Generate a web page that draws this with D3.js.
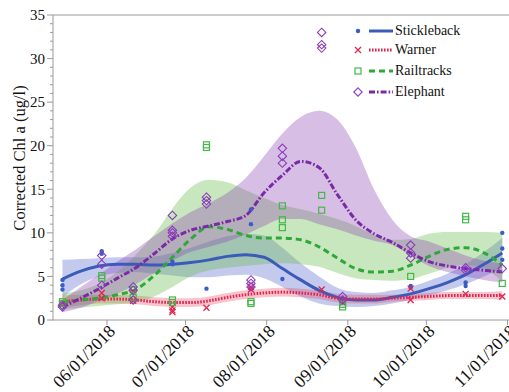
<!DOCTYPE html>
<html>
<head>
<meta charset="utf-8">
<script src="https://cdn.jsdelivr.net/npm/d3@7/dist/d3.min.js"></script>
<style>
  body { margin: 0; background: #fff; }
  svg { display: block; }
</style>
</head>
<body>
<svg id="chart" width="509" height="392"></svg>
<script>
// ---- data -------------------------------------------------------------
const siteNames = ["Stickleback", "Warner", "Railtracks", "Elephant"];

const xTickDates  = ["2018-06-01", "2018-07-01", "2018-08-01", "2018-09-01", "2018-10-01", "2018-11-01"];
const xTickLabels = ["06/01/2018", "07/01/2018", "08/01/2018", "09/01/2018", "10/01/2018", "11/01/2018"];
const yTicks = [0, 5, 10, 15, 20, 25, 30, 35];

// field measurements, [date, chlorophyll a]
const sticklebackObs = [
  ["2018-05-15", 4.6], ["2018-05-15", 4.0], ["2018-05-15", 3.5],
  ["2018-05-30", 7.9], ["2018-05-30", 7.6],
  ["2018-06-26", 6.7], ["2018-06-26", 6.4],
  ["2018-07-09", 3.6],
  ["2018-07-26", 12.7], ["2018-07-26", 11.0],
  ["2018-08-07", 4.7],
  ["2018-09-25", 3.9], ["2018-09-25", 3.7],
  ["2018-10-16", 4.3], ["2018-10-16", 3.9],
  ["2018-10-30", 10.0], ["2018-10-30", 8.2], ["2018-10-30", 6.9]
];
const warnerObs = [
  ["2018-05-15", 1.8],
  ["2018-05-30", 3.1], ["2018-05-30", 2.5],
  ["2018-06-11", 3.2], ["2018-06-11", 2.2],
  ["2018-06-26", 1.5], ["2018-06-26", 1.1], ["2018-06-26", 0.9],
  ["2018-07-09", 1.4],
  ["2018-07-26", 3.8], ["2018-07-26", 3.5],
  ["2018-08-22", 3.5],
  ["2018-08-30", 2.0],
  ["2018-09-25", 3.6], ["2018-09-25", 2.3],
  ["2018-10-16", 3.0],
  ["2018-10-30", 2.7]
];
const railtracksObs = [
  ["2018-05-15", 2.1], ["2018-05-15", 1.9],
  ["2018-05-30", 5.1], ["2018-05-30", 4.8],
  ["2018-06-11", 3.5], ["2018-06-11", 2.6],
  ["2018-06-26", 2.3], ["2018-06-26", 2.0],
  ["2018-07-09", 20.1], ["2018-07-09", 19.8],
  ["2018-07-26", 2.1], ["2018-07-26", 1.9],
  ["2018-08-07", 13.1], ["2018-08-07", 11.5], ["2018-08-07", 10.6],
  ["2018-08-22", 14.3], ["2018-08-22", 12.6],
  ["2018-08-30", 1.8], ["2018-08-30", 1.5],
  ["2018-09-25", 5.0],
  ["2018-10-16", 11.9], ["2018-10-16", 11.5],
  ["2018-10-30", 4.2]
];
const elephantObs = [
  ["2018-05-15", 1.5], ["2018-05-15", 1.7],
  ["2018-05-30", 7.4], ["2018-05-30", 6.4], ["2018-05-30", 4.0],
  ["2018-06-11", 3.8], ["2018-06-11", 3.4], ["2018-06-11", 2.3],
  ["2018-06-26", 12.0], ["2018-06-26", 10.3], ["2018-06-26", 10.0], ["2018-06-26", 9.6],
  ["2018-07-09", 14.1], ["2018-07-09", 13.7], ["2018-07-09", 13.3],
  ["2018-07-26", 4.6], ["2018-07-26", 4.2], ["2018-07-26", 3.8],
  ["2018-08-07", 19.7], ["2018-08-07", 18.8], ["2018-08-07", 18.0],
  ["2018-08-22", 33.0], ["2018-08-22", 31.6], ["2018-08-22", 31.2],
  ["2018-08-30", 2.7], ["2018-08-30", 2.3],
  ["2018-09-25", 8.6], ["2018-09-25", 7.7], ["2018-09-25", 7.1],
  ["2018-10-16", 6.0], ["2018-10-16", 5.7],
  ["2018-10-30", 5.9]
];

// smoothed trend and its confidence band, evaluated weekly
const fitDates = [
  "2018-05-15", "2018-05-22", "2018-05-29", "2018-06-05", "2018-06-12", "2018-06-19", "2018-06-26",
  "2018-07-03", "2018-07-10", "2018-07-17", "2018-07-24", "2018-07-31", "2018-08-07", "2018-08-14",
  "2018-08-21", "2018-08-28", "2018-09-04", "2018-09-11", "2018-09-18", "2018-09-25", "2018-10-02",
  "2018-10-09", "2018-10-16", "2018-10-23", "2018-10-30"
];

const sticklebackFit = [4.7, 5.6, 6.2, 6.4, 6.4, 6.3, 6.4, 6.6, 6.9, 7.3, 7.5, 7.2, 5.9, 4.6, 3.4, 2.6, 2.3, 2.3, 2.6, 3.0, 3.6, 4.3, 5.2, 6.4, 7.7];
const sticklebackLo  = [2.6, 4.1, 5.0, 5.4, 5.5, 5.3, 5.1, 4.9, 4.9, 5.1, 5.2, 4.8, 3.8, 2.7, 1.9, 1.6, 1.5, 1.6, 1.9, 2.3, 2.8, 3.4, 4.1, 5.0, 6.0];
const sticklebackHi  = [6.9, 7.0, 7.1, 7.2, 7.2, 7.3, 7.7, 8.3, 9.0, 9.6, 9.9, 9.7, 8.3, 6.5, 5.0, 3.7, 3.2, 3.1, 3.4, 3.8, 4.5, 5.3, 6.4, 7.8, 9.4];

const warnerFit = [2.1, 2.3, 2.4, 2.4, 2.3, 2.1, 2.0, 2.0, 2.2, 2.6, 2.9, 3.1, 3.2, 3.1, 2.9, 2.5, 2.4, 2.4, 2.5, 2.6, 2.7, 2.8, 2.8, 2.8, 2.8];
const warnerLo  = [1.4, 1.7, 1.9, 1.9, 1.8, 1.6, 1.5, 1.5, 1.7, 2.1, 2.4, 2.6, 2.7, 2.6, 2.4, 2.0, 1.9, 1.9, 2.1, 2.2, 2.3, 2.4, 2.4, 2.4, 2.3];
const warnerHi  = [2.8, 2.9, 2.9, 2.9, 2.8, 2.6, 2.5, 2.5, 2.7, 3.1, 3.4, 3.6, 3.7, 3.6, 3.4, 3.0, 2.9, 2.9, 2.9, 3.0, 3.1, 3.2, 3.2, 3.2, 3.3];

const railtracksFit = [2.1, 2.3, 2.5, 2.9, 3.5, 5.1, 7.2, 9.3, 10.7, 10.4, 9.7, 9.4, 9.4, 9.2, 8.4, 7.1, 5.9, 5.5, 5.6, 6.3, 7.3, 8.1, 8.3, 7.7, 6.3];
const railtracksLo  = [1.2, 1.4, 1.6, 1.8, 2.0, 2.7, 3.8, 5.0, 5.7, 6.0, 6.2, 6.4, 6.5, 6.4, 6.1, 5.4, 4.8, 4.6, 4.5, 4.7, 5.3, 6.0, 6.3, 5.9, 4.4];
const railtracksHi  = [3.0, 3.4, 4.2, 5.5, 7.5, 9.8, 12.8, 15.2, 16.1, 15.8, 14.9, 14.0, 13.2, 12.7, 12.2, 11.6, 10.8, 9.8, 9.2, 9.3, 9.9, 10.1, 10.1, 10.1, 10.0];

const elephantFit = [1.5, 2.5, 3.6, 4.8, 6.0, 7.6, 9.3, 10.3, 10.8, 11.3, 12.0, 14.6, 16.6, 18.2, 17.5, 14.4, 11.5, 9.9, 8.9, 7.7, 6.7, 6.2, 5.9, 5.7, 5.5];
const elephantLo  = [0.9, 1.4, 2.2, 3.0, 4.1, 5.4, 6.8, 7.8, 8.4, 9.0, 9.8, 10.8, 11.6, 11.6, 11.0, 10.4, 9.7, 9.1, 8.6, 7.4, 6.2, 5.5, 5.0, 4.6, 4.3];
const elephantHi  = [2.3, 3.8, 5.2, 6.7, 8.1, 9.6, 11.1, 12.4, 13.4, 14.6, 16.3, 18.8, 21.4, 23.3, 24.0, 23.0, 19.8, 15.0, 11.5, 9.6, 9.0, 8.2, 7.4, 6.8, 6.5];

// ---- layout -----------------------------------------------------------
const parse = d3.timeParse("%Y-%m-%d");
const serif = "'Liberation Serif', 'DejaVu Serif', 'Times New Roman', serif";
const svg = d3.select("#chart")
  .attr("font-family", serif)
  .style("font-family", serif);

const x = d3.scaleTime()
  .domain([parse("2018-05-11"), parse("2018-11-05")])
  .range([52, 518]);
const y = d3.scaleLinear().domain([0, 35]).range([320, 15]);

const axisColor = "#9a9a9a";

const sites = [
  { name: siteNames[0], obs: sticklebackObs, fit: sticklebackFit, lo: sticklebackLo, hi: sticklebackHi,
    line: "#3a5bb8", band: "rgba(60,80,200,0.30)", dash: null, marker: "dot" },
  { name: siteNames[1], obs: warnerObs, fit: warnerFit, lo: warnerLo, hi: warnerHi,
    line: "#e0264f", band: "rgba(230,60,90,0.30)", dash: "1.6,1.4", marker: "cross" },
  { name: siteNames[2], obs: railtracksObs, fit: railtracksFit, lo: railtracksLo, hi: railtracksHi,
    line: "#2fa83a", band: "rgba(100,185,70,0.35)", dash: "6,4", marker: "square" },
  { name: siteNames[3], obs: elephantObs, fit: elephantFit, lo: elephantLo, hi: elephantHi,
    line: "#7a2aa6", band: "rgba(140,70,180,0.35)", dash: "6,2,1.6,2", marker: "diamond" }
];
const markerColor = ["#3a5bc8", "#e0264f", "#44b84a", "#8a3cb8"];

// ---- bands -------------------------------------------------------------
const area = d3.area()
  .x(d => x(d.date)).y0(d => y(d.lo)).y1(d => y(d.hi))
  .curve(d3.curveMonotoneX);
const line = d3.line()
  .x(d => x(d.date)).y(d => y(d.v))
  .curve(d3.curveMonotoneX);

sites.forEach(s => {
  s.rows = fitDates.map((d, i) => ({ date: parse(d), v: s.fit[i], lo: s.lo[i], hi: s.hi[i] }));
});

const gBands = svg.append("g");
sites.forEach(s => {
  gBands.append("path").datum(s.rows).attr("d", area).attr("fill", s.band);
});

// ---- axes ----------------------------------------------------------------
function label(g) {
  return g.append("text").attr("font-family", serif).style("font-family", serif).attr("fill", "#111");
}

const gx = svg.append("g").attr("transform", "translate(0,320)");
gx.append("line").attr("x1", 52).attr("x2", 518).attr("stroke", axisColor);
xTickDates.forEach((d, i) => {
  const px = x(parse(d));
  gx.append("line").attr("x1", px).attr("x2", px).attr("y1", 0).attr("y2", 5).attr("stroke", axisColor);
  label(gx)
    .attr("transform", `translate(${px + 5},8) rotate(-45)`)
    .attr("text-anchor", "end")
    .attr("dy", "0.35em")
    .attr("font-size", 17.5)
    .text(xTickLabels[i]);
});

const gy = svg.append("g").attr("transform", "translate(53,0)");
gy.append("line").attr("y1", y(0)).attr("y2", y(35)).attr("stroke", axisColor);
d3.range(0, 36).forEach(v => {
  const major = v % 5 === 0;
  gy.append("line").attr("x1", major ? -6 : -3).attr("x2", 0)
    .attr("y1", y(v)).attr("y2", y(v)).attr("stroke", axisColor);
});
yTicks.forEach(v => {
  label(gy).attr("x", -8).attr("y", y(v)).attr("dy", "0.35em")
    .attr("text-anchor", "end").attr("font-size", 15).text(v);
});
// top frame line
svg.append("line").attr("x1", 53).attr("x2", 518).attr("y1", y(35)).attr("y2", y(35)).attr("stroke", axisColor);

label(svg)
  .attr("transform", "translate(25,158) rotate(-90)")
  .attr("text-anchor", "middle")
  .attr("font-size", 16.5)
  .text("Corrected Chl a (ug/l)");

// ---- trend lines -----------------------------------------------------------
sites.forEach(s => {
  svg.append("path").datum(s.rows).attr("d", line)
    .attr("fill", "none").attr("stroke", s.line).attr("stroke-width", 3)
    .attr("stroke-dasharray", s.dash);
});

// ---- markers ---------------------------------------------------------------
function drawMarker(g, kind, cx, cy, color) {
  if (kind === "dot") {
    g.append("circle").attr("cx", cx).attr("cy", cy).attr("r", 2.2).attr("fill", color);
  } else if (kind === "cross") {
    const h = 3;
    g.append("path").attr("d", `M${cx - h},${cy - h}L${cx + h},${cy + h}M${cx - h},${cy + h}L${cx + h},${cy - h}`)
      .attr("stroke", color).attr("stroke-width", 1.3).attr("fill", "none");
  } else if (kind === "square") {
    g.append("rect").attr("x", cx - 3).attr("y", cy - 3).attr("width", 6).attr("height", 6)
      .attr("fill", "none").attr("stroke", color).attr("stroke-width", 1.2);
  } else {
    const h = 4.2;
    g.append("path").attr("d", `M${cx},${cy - h}L${cx + h},${cy}L${cx},${cy + h}L${cx - h},${cy}Z`)
      .attr("fill", "none").attr("stroke", color).attr("stroke-width", 1.1);
  }
}

const gPts = svg.append("g");
sites.forEach((s, i) => {
  s.obs.forEach(([d, v]) => drawMarker(gPts, s.marker, x(parse(d)), y(v), markerColor[i]));
});

// ---- legend -------------------------------------------------------------------
const legendY = [31, 50, 71, 92];
const gLeg = svg.append("g");
sites.forEach((s, i) => {
  const ly = legendY[i];
  drawMarker(gLeg, s.marker, 358, ly, markerColor[i]);
  gLeg.append("line").attr("x1", 369).attr("x2", 393).attr("y1", ly).attr("y2", ly)
    .attr("stroke", s.line).attr("stroke-width", 3).attr("stroke-dasharray", s.dash);
  label(gLeg).attr("x", 395).attr("y", ly).attr("dy", "0.32em")
    .attr("font-size", 14).text(s.name);
});
</script>
</body>
</html>
